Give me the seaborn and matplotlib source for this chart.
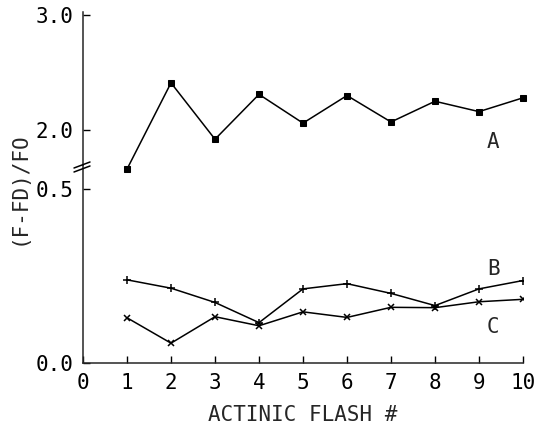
import matplotlib
matplotlib.use("Agg")
import matplotlib.pyplot as plt
import seaborn as sns
from matplotlib.lines import Line2D

# --- datos ---
flash = [1, 2, 3, 4, 5, 6, 7, 8, 9, 10]
serie_a = [1.66, 2.41, 1.92, 2.31, 2.06, 2.30, 2.07, 2.25, 2.16, 2.28]
serie_b = [0.239, 0.215, 0.174, 0.116, 0.213, 0.228, 0.200, 0.165, 0.213, 0.237]
serie_c = [0.130, 0.057, 0.133, 0.107, 0.147, 0.131, 0.160, 0.159, 0.176, 0.183]
xticks = [0, 1, 2, 3, 4, 5, 6, 7, 8, 9, 10]
yticks_top = [2.0, 3.0]
yticks_bottom = [0.0, 0.5]

sns.set_style("ticks")
plt.rcParams["font.family"] = ["DejaVu Sans Mono", "DejaVu Sans"]
plt.rcParams["axes.linewidth"] = 1.1

W, H = 539, 426
fig = plt.figure(figsize=(W / 100, H / 100), dpi=100)

left = 83 / W
width = (523 - 83) / W
split = 1 - 165 / H
ax_bot = fig.add_axes([left, 1 - 363 / H, width, (363 - 165) / H])
ax_top = fig.add_axes([left, split, width, (165 - 12) / H], sharex=ax_bot)
for ax in (ax_top, ax_bot):
    ax.patch.set_visible(False)

linea = dict(color="black", linewidth=1.1, markeredgecolor="black")

# --- serie A (escala superior) ---
sns.lineplot(x=flash, y=serie_a, ax=ax_top, marker="s", markersize=4, **linea)
for ln in ax_top.lines:
    ln.set_clip_on(False)
ax_top.text(9.32, 1.90, "A", ha="center", va="center", fontsize=15)

# --- series B y C (escala inferior) ---
sns.lineplot(x=flash, y=serie_b, ax=ax_bot, marker="+", markersize=6, markeredgewidth=1.1, **linea)
sns.lineplot(x=flash, y=serie_c, ax=ax_bot, marker="x", markersize=4.5, markeredgewidth=1.1, **linea)
ax_bot.text(9.32, 0.27, "B", ha="center", va="center", fontsize=15)
ax_bot.text(9.32, 0.103, "C", ha="center", va="center", fontsize=15)

# --- ejes ---
ax_top.set_ylim(1.696, 3.026)
ax_top.set_yticks(yticks_top)
ax_top.set_yticklabels([f"{v:.1f}" for v in yticks_top])
for s in ["top", "right", "bottom"]:
    ax_top.spines[s].set_visible(False)
ax_top.tick_params(axis="x", bottom=False, labelbottom=False)

ax_bot.set_ylim(0, 0.569)
ax_bot.set_yticks(yticks_bottom)
ax_bot.set_yticklabels([f"{v:.1f}" for v in yticks_bottom])
ax_bot.set_xlim(0, 10)
ax_bot.set_xticks(xticks)
for s in ["top", "right"]:
    ax_bot.spines[s].set_visible(False)

for ax in (ax_top, ax_bot):
    ax.tick_params(direction="in", length=5, width=1, labelsize=15, pad=7, colors="black")
    ax.set_xlabel("")
    ax.set_ylabel("")
ax_top.tick_params(axis="x", bottom=False, labelbottom=False)

ax_bot.set_xlabel("ACTINIC FLASH #", fontsize=15, labelpad=9)
fig.text(19 / W, 1 - 188 / H, "(F-FD)/FO", rotation=90, ha="center", va="center", fontsize=15)

# --- marca de corte del eje ---
for dy in (0, 4):
    fig.add_artist(Line2D([74 / W, 90 / W], [1 - (168 + dy) / H, 1 - (162 + dy) / H],
                          color="black", linewidth=1.1, transform=fig.transFigure))

fig.savefig("out.png", dpi=100)
